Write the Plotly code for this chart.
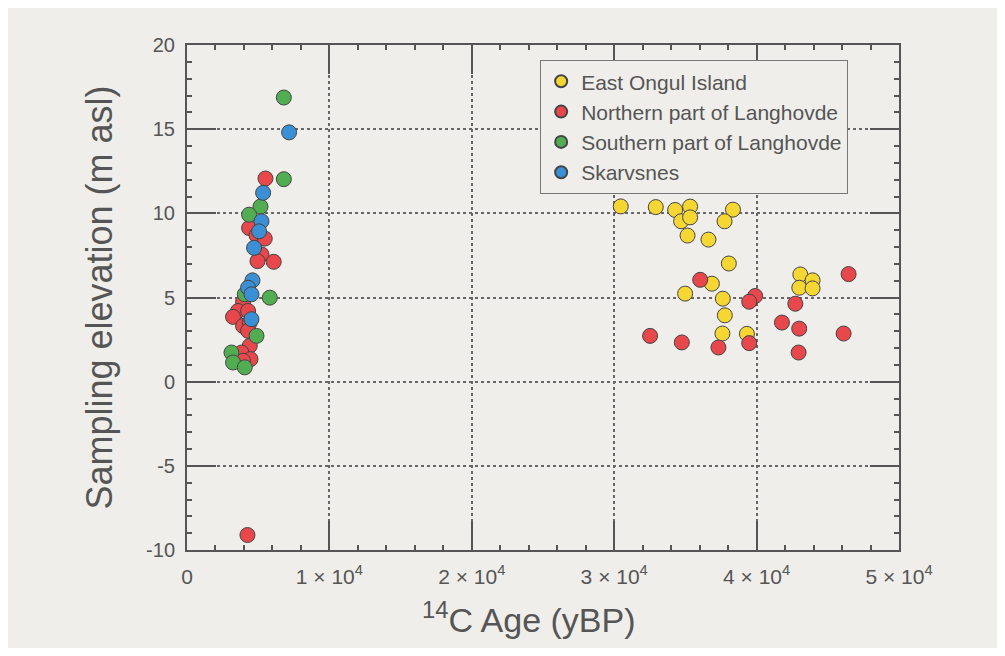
import plotly.graph_objects as go

# ---- data ----
east_x = [30460, 32920, 34280, 35330, 34700, 35330, 35150, 36620, 38340, 37750, 38050,
          36860, 34980, 37630, 37770, 37600, 39320, 43070, 43930, 43000, 43930]
east_y = [10.41, 10.37, 10.2, 10.4, 9.53, 9.76, 8.68, 8.44, 10.22, 9.53, 7.02,
          5.82, 5.23, 4.93, 3.94, 2.86, 2.84, 6.37, 6.02, 5.58, 5.54]

north_x = [36040, 39900, 39480, 42720, 46460, 32520, 34750, 37320, 39480, 41780, 42990, 42950, 46110,
           5510, 4360, 4880, 5460, 5230, 4950, 6090, 3937, 3585, 4290, 3233, 3937, 4407, 4290,
           4407, 3824, 4456, 3937, 4245]
north_y = [6.05, 5.09, 4.75, 4.63, 6.39, 2.72, 2.33, 2.03, 2.29, 3.51, 3.15, 1.73, 2.86,
           12.07, 9.13, 8.7, 8.5, 7.56, 7.16, 7.12, 4.75, 4.2, 4.2, 3.85, 3.31, 3.51, 3.02,
           2.13, 1.73, 1.34, 1.24, -9.11]

south_x = [6800, 6800, 5160, 4360, 4056, 5813, 4880, 3121, 3233, 4056]
south_y = [16.88, 12.03, 10.4, 9.92, 5.19, 4.99, 2.72, 1.73, 1.14, 0.85]

skar_x = [7170, 5344, 5230, 5063, 4710, 4597, 4290, 4526, 4526]
skar_y = [14.81, 11.22, 9.53, 8.93, 7.95, 6.02, 5.58, 5.19, 3.71]

series_names = ["East Ongul Island", "Northern part of Langhovde",
                "Southern part of Langhovde", "Skarvsnes"]
series_colors = ["#f6d633", "#e8474b", "#52ad52", "#3b8fd5"]

x_tickvals = [0, 10000, 20000, 30000, 40000, 50000]
x_ticktext = ["0", "1 × 10<sup>4</sup>", "2 × 10<sup>4</sup>",
              "3 × 10<sup>4</sup>", "4 × 10<sup>4</sup>", "5 × 10<sup>4</sup>"]
y_tickvals = [-10, -5, 0, 5, 10, 15, 20]
y_ticktext = ["-10", "-5", "0", "5", "10", "15", "20"]

x_title = "<sup>14</sup>C Age (yBP)"
y_title = "Sampling elevation (m asl)"

# ---- figure ----
bg = "#efeeea"
ink = "#555555"
FONT = "Liberation Sans, Arial, sans-serif"
fig = go.Figure()
for name, xs, ys, col in zip(series_names,
                             [east_x, north_x, south_x, skar_x],
                             [east_y, north_y, south_y, skar_y],
                             series_colors):
    fig.add_trace(go.Scatter(
        x=xs, y=ys, mode="markers", name=name,
        marker=dict(size=15, color=col, line=dict(color="#444444", width=1)),
    ))

axis_common = dict(
    showline=True, linecolor=ink, linewidth=2, mirror="ticks",
    ticks="inside", ticklen=29, tickwidth=2, tickcolor=ink,
    showgrid=True, gridcolor="#666666", gridwidth=2, griddash="dot",
    zeroline=False,
)

fig.update_xaxes(
    range=[0, 50000], tickmode="array", tickvals=x_tickvals, ticktext=x_ticktext,
    minor=dict(dtick=2000, ticks="inside", ticklen=5, tickwidth=2, tickcolor=ink, showgrid=False),
    ticklabelstandoff=7,
    tickfont=dict(size=21, color=ink, family=FONT),
    **axis_common,
)
fig.update_yaxes(
    range=[-10, 20], tickmode="array", tickvals=y_tickvals, ticktext=y_ticktext,
    minor=dict(dtick=1, ticks="inside", ticklen=5, tickwidth=2, tickcolor=ink, showgrid=False),
    ticklabelstandoff=6,
    tickfont=dict(size=20, color=ink, family=FONT),
    title=dict(text=y_title, font=dict(size=36, color=ink), standoff=22),
    **axis_common,
)

fig.add_annotation(
    text=x_title, xref="paper", yref="paper", x=0.48, y=-0.133,
    xanchor="center", yanchor="middle", showarrow=False,
    font=dict(size=34, color=ink, family=FONT),
)

fig.update_layout(
    width=989, height=640,
    margin=dict(l=179, r=98, t=37, b=98),
    paper_bgcolor=bg, plot_bgcolor=bg,
    font=dict(family=FONT, color=ink),
    showlegend=True,
    legend=dict(
        x=0.496, y=0.97, xanchor="left", yanchor="top",
        bgcolor=bg, bordercolor="#777777", borderwidth=1,
        font=dict(size=21, color=ink),
        itemsizing="constant",
        tracegroupgap=0,
    ),
)

fig.write_html("out.html")
